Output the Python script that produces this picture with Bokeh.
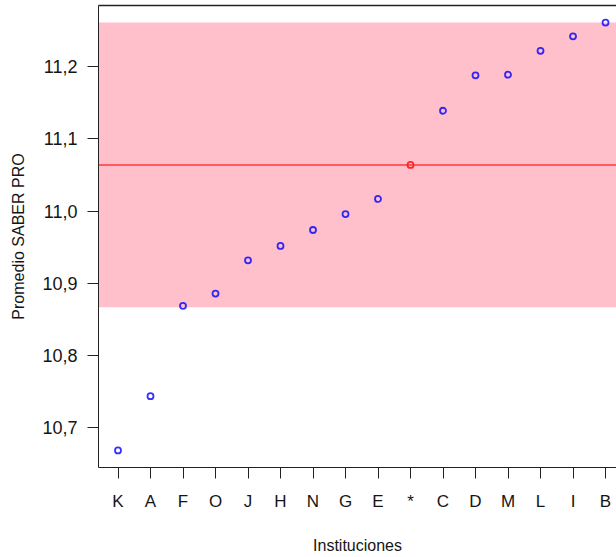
from bokeh.plotting import figure
from bokeh.models import (Range1d, FixedTicker, LinearAxis, BoxAnnotation, Span,
                          ColumnDataSource, CustomJSTickFormatter)
from bokeh.embed import file_html
from bokeh.resources import INLINE

# ---- data ----
instituciones = ["K", "A", "F", "O", "J", "H", "N", "G", "E", "*", "C", "D", "M", "L", "I", "B"]
promedio = [10.669, 10.744, 10.869, 10.886, 10.932, 10.952, 10.974, 10.996,
            11.017, 11.064, 11.139, 11.188, 11.189, 11.222, 11.242, 11.261]
referencia = "*"
valor_referencia = 11.064
banda_inferior = 10.867
banda_superior = 11.261
y_ticks = [10.7, 10.8, 10.9, 11.0, 11.1, 11.2]

pos = list(range(1, len(instituciones) + 1))
colors = ["red" if c == referencia else "blue" for c in instituciones]
src = ColumnDataSource(dict(x=pos, y=promedio, c=colors))

ymin, ymax = min(promedio), max(promedio)
pad = (ymax - ymin) * 0.04
xpad = (len(pos) - 1) * 0.04

p = figure(width=616, height=557, output_backend="svg", toolbar_location=None,
           x_range=Range1d(1 - xpad, 16.338),
           y_range=Range1d(ymin - pad, ymax + pad),
           min_border_left=98, min_border_right=0, min_border_top=5,
           min_border_bottom=90, x_axis_location=None, y_axis_location=None)
p.outline_line_color = None
p.grid.visible = False
p.background_fill_color = "white"
p.border_fill_color = "white"

FONT = "Liberation Sans"
TXT = "#151515"

band = BoxAnnotation(bottom=banda_inferior, top=banda_superior,
                     fill_color="#FFC0CB", fill_alpha=1.0, line_color=None, level="underlay")
p.add_layout(band)
p.add_layout(Span(location=valor_referencia, dimension="width",
                  line_color="#FF2020", line_width=1.5, line_alpha=0.85))

p.scatter("x", "y", source=src, marker="circle", size=6, fill_color=None,
          line_color="c", line_width=1.8, line_alpha=0.8)

# left axis
ya = LinearAxis(ticker=FixedTicker(ticks=y_ticks),
                formatter=CustomJSTickFormatter(code="return tick.toFixed(1).replace('.', ',');"))
ya.axis_label = "Promedio SABER PRO"
ya.axis_label_text_font = FONT
ya.axis_label_text_font_size = "16px"
ya.axis_label_text_font_style = "normal"
ya.axis_label_text_color = TXT
ya.axis_label_standoff = 12
ya.major_label_text_font = FONT
ya.major_label_text_font_size = "18px"
ya.major_label_text_color = TXT
ya.major_label_standoff = 10
ya.major_tick_out = 11
ya.major_tick_in = 0
ya.minor_tick_out = 0
ya.minor_tick_in = 0
ya.axis_line_color = "#222222"
ya.major_tick_line_color = "#222222"
p.add_layout(ya, "left")

# bottom axis
xa = LinearAxis(ticker=FixedTicker(ticks=pos),
                major_label_overrides={i: c for i, c in zip(pos, instituciones)})
xa.axis_label = "Instituciones"
xa.axis_label_text_font = FONT
xa.axis_label_text_font_size = "16px"
xa.axis_label_text_font_style = "normal"
xa.axis_label_text_color = TXT
xa.axis_label_standoff = 23
xa.major_label_text_font = FONT
xa.major_label_text_font_size = "17px"
xa.major_label_text_color = TXT
xa.major_label_standoff = 13
xa.major_tick_out = 11
xa.major_tick_in = 0
xa.minor_tick_out = 0
xa.minor_tick_in = 0
xa.axis_line_color = "#222222"
xa.major_tick_line_color = "#222222"
p.add_layout(xa, "below")

# top frame line
ta = LinearAxis(ticker=FixedTicker(ticks=[]), major_label_text_font_size="0px")
ta.major_tick_out = 0
ta.minor_tick_out = 0
ta.axis_line_color = "#222222"
ta.axis_line_width = 1.5
p.add_layout(ta, "above")

open("out.html", "w").write(file_html(p, INLINE))
